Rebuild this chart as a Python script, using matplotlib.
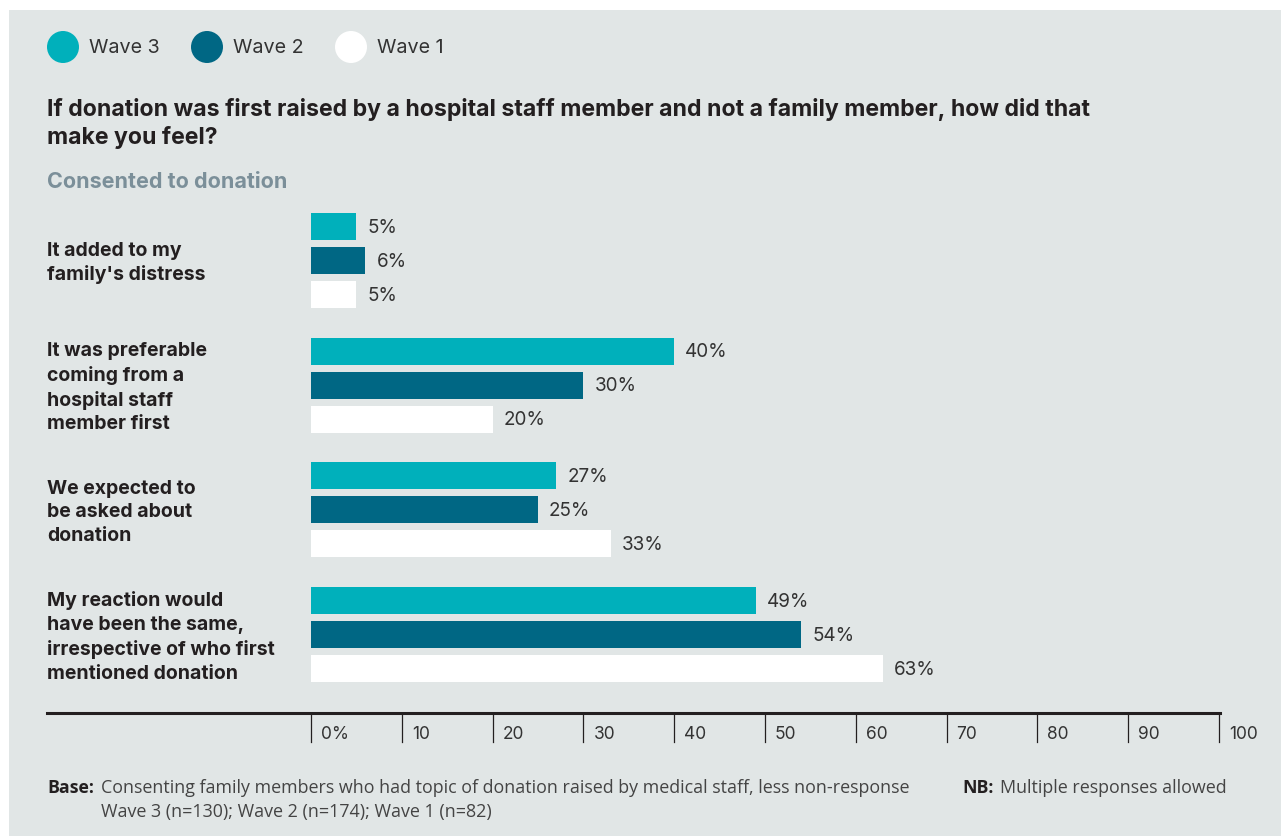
import matplotlib
matplotlib.use("Agg")
import matplotlib.pyplot as plt
from matplotlib.patches import Rectangle, Circle

# ---- data ----
categories = [
    "It added to my\nfamily's distress",
    "It was preferable\ncoming from a\nhospital staff\nmember first",
    "We expected to\nbe asked about\ndonation",
    "My reaction would\nhave been the same,\nirrespective of who first\nmentioned donation",
]
series_names = ["Wave 3", "Wave 2", "Wave 1"]
wave3 = [5, 40, 27, 49]
wave2 = [6, 30, 25, 54]
wave1 = [5, 20, 33, 63]
tick_values = [0, 10, 20, 30, 40, 50, 60, 70, 80, 90, 100]
tick_labels = ["0%", "10", "20", "30", "40", "50", "60", "70", "80", "90", "100"]

title = ("If donation was first raised by a hospital staff member and not a family member, how did that\n"
         "make you feel?")
subtitle = "Consented to donation"
base_note = "Consenting family members who had topic of donation raised by medical staff, less non-response"
base_note2 = "Wave 3 (n=130); Wave 2 (n=174); Wave 1 (n=82)"
nb_note = "Multiple responses allowed"

# ---- style ----
colors = ["#00b0bb", "#006784", "#ffffff"]
bg = "#e1e6e6"
dark = "#231f20"
W, H = 1281, 837
main_font = ["Inter", "DejaVu Sans"]
note_font = ["Open Sans", "DejaVu Sans"]
plt.rcParams["font.family"] = main_font

fig = plt.figure(figsize=(W / 100, H / 100), dpi=100)
fig.patch.set_facecolor("white")

def fx(px):
    return px / W

def fy(py):
    return 1 - py / H

# grey panel behind everything
fig.patches.append(Rectangle((fx(9), 0), 1 - fx(9), fy(11), transform=fig.transFigure,
                             facecolor=bg, edgecolor="none", zorder=-10))

# legend
for i, (name, c) in enumerate(zip(series_names, colors)):
    cx = 63 + i * 144
    fig.patches.append(Circle((cx, H - 48), 16, transform=None, facecolor=c,
                              edgecolor="none", zorder=2))
    fig.text(fx(cx + 26), fy(48), name, fontsize=14.2, color="#333333", va="center",
             ha="left", family=main_font)

fig.text(fx(47), fy(123.5), title, fontsize=16.6, fontweight="bold", color=dark,
         va="center", ha="left", linespacing=1.33, family=main_font)
fig.text(fx(47), fy(182), subtitle, fontsize=15.5, fontweight="bold", color="#7b8f99",
         va="center", ha="left", family=main_font)

# chart axes: x spans 0..100 between px 311 and 1219, y in pixel rows
ax_top, ax_bot = 200, 714
ax = fig.add_axes([fx(311), fy(ax_bot), fx(1219) - fx(311), (ax_bot - ax_top) / H])
ax.set_xlim(0, 100)
ax.set_ylim(ax_bot, ax_top)
ax.axis("off")

group_gap = 124.7
bar_gap = 34
bar_h = 27
first_center = 227.5
all_series = [wave3, wave2, wave1]
for g, cat in enumerate(categories):
    gc = first_center + g * group_gap
    for s, vals in enumerate(all_series):
        y = gc + s * bar_gap
        ax.barh(y, vals[g], height=bar_h, color=colors[s], edgecolor="none", zorder=2)
        ax.annotate(f"{vals[g]}%", (vals[g], y), xytext=(8, 0), textcoords="offset points",
                    va="center", ha="left", fontsize=13.6, color="#333333", family=main_font)
    mid = gc + bar_gap + 1.5
    fig.text(fx(47), fy(mid), cat, fontsize=14, fontweight="bold", color=dark,
             va="center", ha="left", linespacing=1.4, family=main_font)

# x axis baseline, ticks and labels
fig.lines.append(plt.Line2D([fx(47), fx(1220)], [fy(714), fy(714)], transform=fig.transFigure,
                            color=dark, lw=2.2))
for v, lab in zip(tick_values, tick_labels):
    px = 311 + v * (1219 - 311) / 100
    fig.lines.append(plt.Line2D([fx(px), fx(px)], [fy(714), fy(743)], transform=fig.transFigure,
                                color=dark, lw=0.9))
    fig.text(fx(px + 10), fy(735), lab, fontsize=12.5, color="#333333", va="center", ha="left",
             family=main_font)

# footnotes
fig.text(fx(47), fy(788), "Base:", fontsize=12.8, fontweight="bold", color=dark,
         va="center", ha="left", family=note_font)
fig.text(fx(101), fy(788), base_note, fontsize=12.9, color="#444444", va="center", ha="left",
         family=note_font)
fig.text(fx(101), fy(812), base_note2, fontsize=12.9, color="#444444", va="center", ha="left",
         family=note_font)
fig.text(fx(962), fy(788), "NB:", fontsize=12.8, fontweight="bold", color=dark,
         va="center", ha="left", family=note_font)
fig.text(fx(1000), fy(788), nb_note, fontsize=12.9, color="#444444", va="center", ha="left",
         family=note_font)

fig.savefig("out.png", dpi=100, facecolor=fig.get_facecolor())
